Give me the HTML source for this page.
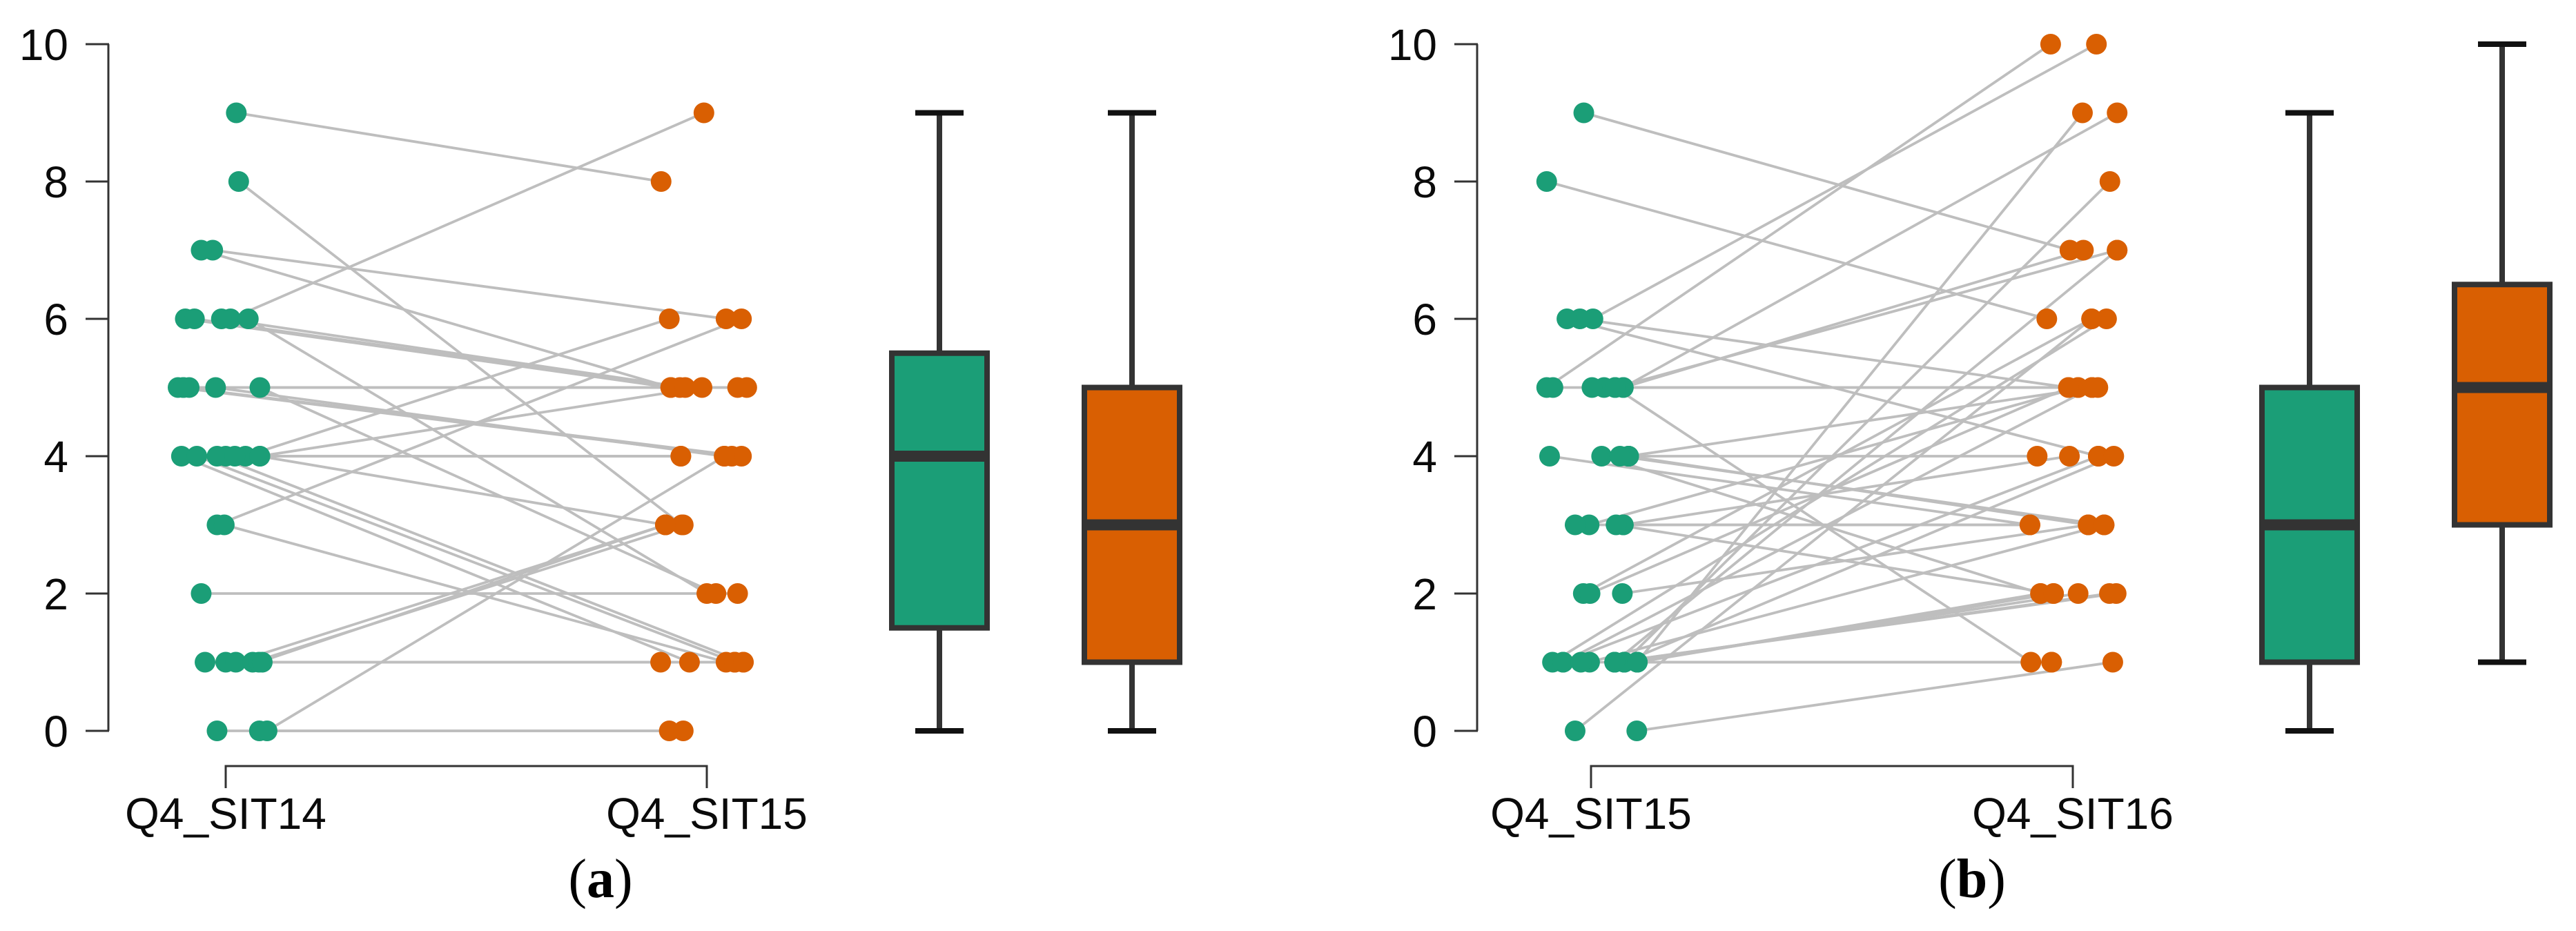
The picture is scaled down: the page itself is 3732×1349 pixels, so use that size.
<!DOCTYPE html>
<html lang="en">
<head>
<meta charset="utf-8">
<title>Paired comparison plots</title>
<style>
html,body{margin:0;padding:0;background:#fff;width:3732px;height:1349px;overflow:hidden}
svg{display:block}
.tick-text{font-family:"Liberation Sans",sans-serif;font-size:64px;fill:#0a0a0a}
.caption{font-family:"Liberation Serif",serif;font-size:80px;fill:#000}
</style>
</head>
<body>
<svg id="chart" xmlns="http://www.w3.org/2000/svg" width="3732" height="1349" viewBox="0 0 3732 1349">
  <rect x="0" y="0" width="3732" height="1349" fill="#fff"/>
  <g id="panel-a"></g>
  <g id="panel-b"></g>
  <text class="caption" x="870" y="1300" text-anchor="middle">(<tspan font-weight="bold">a</tspan>)</text>
  <text class="caption" x="2857" y="1300" text-anchor="middle">(<tspan font-weight="bold">b</tspan>)</text>
</svg>
<script>
// y axis
const yTicks = [0, 2, 4, 6, 8, 10];
const yTickLabels = ["0", "2", "4", "6", "8", "10"];

// panel a: paired observations
const categoriesA = ["Q4_SIT14", "Q4_SIT15"];
const beforeA = [9, 8, 7, 7, 6, 6, 6, 6, 6, 5, 5, 5, 5, 5, 4, 4, 4, 4, 4, 4, 4, 3, 3, 2, 1, 1, 1, 1, 1, 1, 0, 0, 0, 5, 4];
const afterA = [8, 3, 6, 5, 9, 5, 5, 5, 2, 5, 2, 4, 4, 4, 6, 5, 4, 3, 1, 1, 1, 6, 1, 2, 1, 1, 3, 3, 3, 1, 0, 0, 4, 5, 4];
const jitterBeforeA = [.022, .027, -.027, -.051, .010, -.084, -.065, -.009, .047, -.076, .071, -.099, -.088, -.021, .041, .071, 0, .071, -.092, -.060, -.018, -.018, -.003, -.051, -.043, 0, .021, .056, .069, .076, -.018, .070, .086, -.088, .019];
const jitterAfterA = [-.095, -.052, .040, -.075, -.006, -.075, -.056, -.045, 0, .083, .019, .052, .072, .036, -.078, -.010, -.054, -.086, -.036, .058, .076, .072, .040, .064, .058, .076, -.086, -.049, -.086, -.096, -.078, -.049, .037, .064, -.054];
const boxMinA = [0, 0];
const boxQ1A = [1.5, 1];
const boxMedianA = [4, 3];
const boxQ3A = [5.5, 5];
const boxMaxA = [9, 9];

// panel b: paired observations
const categoriesB = ["Q4_SIT15", "Q4_SIT16"];
const beforeB = [9, 8, 6, 6, 6, 5, 5, 5, 5, 5, 5, 5, 5, 4, 4, 4, 4, 4, 4, 3, 3, 3, 3, 2, 2, 2, 1, 1, 1, 1, 1, 1, 1, 1, 1, 1, 1, 1, 1, 1, 0, 0, 3, 1];
const afterB = [7, 6, 5, 4, 10, 10, 9, 7, 7, 5, 1, 5, 5, 5, 4, 3, 3, 2, 3, 5, 4, 3, 2, 6, 5, 3, 9, 8, 7, 6, 5, 4, 4, 3, 2, 2, 2, 2, 2, 1, 1, 6, 3, 1];
const jitterBeforeB = [-.015, -.092, -.023, -.050, .004, -.092, .067, .067, .050, .027, .050, -.079, .002, .078, .078, -.086, .078, .022, .060, -.004, .067, .067, .052, -.016, -.002, .065, .096, .069, .049, -.080, -.058, -.058, .069, -.003, .096, .096, .069, .049, .049, .096, .095, -.033, -.033, -.021];
const jitterAfterB = [-.006, -.054, -.009, .053, .049, -.046, .092, .022, .092, .011, -.087, .040, .052, .040, -.074, -.089, .032, -.067, .065, .011, -.007, -.089, -.040, .039, -.009, .032, .020, .077, .092, .070, .040, .053, .085, .065, -.067, -.040, .011, .076, .090, -.044, .083, .039, -.089, -.044];
const boxMinB = [0, 1];
const boxQ1B = [1, 3];
const boxMedianB = [3, 5];
const boxQ3B = [5, 6.5];
const boxMaxB = [9, 10];

const NS = 'http://www.w3.org/2000/svg';
const GREEN = '#1b9e77';
const ORANGE = '#d95f02';
const boxColors = [GREEN, ORANGE];

function yScale(v) { return 1059 - v * 99.5; }

function make(parent, tag, attrs) {
  const el = document.createElementNS(NS, tag);
  for (const k in attrs) el.setAttribute(k, attrs[k]);
  parent.appendChild(el);
  return el;
}

function drawPanel(root, cfg) {
  function xScale(c) { return cfg.x0 + c * cfg.gap; }
  function boxX(i) { return cfg.boxStart + i * cfg.boxStep; }

  // y axis
  const axis = make(root, 'line', { x1: cfg.axisX, x2: cfg.axisX, y1: yScale(10), y2: yScale(0), stroke: '#333', 'stroke-width': 3 });
  
  
  yTicks.forEach(function (t, i) {
    const tick = make(root, 'line', { x1: cfg.axisX - 33, x2: cfg.axisX + 1, y1: yScale(t), y2: yScale(t), stroke: '#333', 'stroke-width': 3 });
    
    
    const lab = make(root, 'text', { x: cfg.axisX - 58, y: yScale(t) + 23, 'text-anchor': 'end', class: 'tick-text' });
    
    
    lab.textContent = yTickLabels[i];
  });

  // x bracket
  const bracket = make(root, 'path', {
    d: 'M' + xScale(0) + ' 1142V1110H' + xScale(1) + 'V1142',
    fill: 'none', stroke: '#333', 'stroke-width': 3
  });
  
  
  cfg.categories.forEach(function (c, i) {
    const lab = make(root, 'text', { x: xScale(i), y: 1201, 'text-anchor': 'middle', class: 'tick-text' });
    
    
    lab.textContent = c;
  });

  // connecting lines
  cfg.before.forEach(function (b, i) {
    const line = make(root, 'line', {
      x1: xScale(0 + cfg.jitterBefore[i]), y1: yScale(b),
      x2: xScale(1 + cfg.jitterAfter[i]), y2: yScale(cfg.after[i]),
      stroke: '#bebebe', 'stroke-width': 3.8
    });
    
    
  });

  // dots
  cfg.before.forEach(function (b, i) {
    const dot = make(root, 'circle', { cx: xScale(0 + cfg.jitterBefore[i]), cy: yScale(b), r: 15, fill: GREEN });
    
    
  });
  cfg.after.forEach(function (a, i) {
    const dot = make(root, 'circle', { cx: xScale(1 + cfg.jitterAfter[i]), cy: yScale(a), r: 15, fill: ORANGE });
    
    
  });

  // box plots
  cfg.boxMedian.forEach(function (m, i) {
    const cx = boxX(i);
    const whisker = make(root, 'line', { x1: cx, x2: cx, y1: yScale(cfg.boxMax[i]), y2: yScale(cfg.boxMin[i]), stroke: '#333', 'stroke-width': 8 });
    
    
    [cfg.boxMax[i], cfg.boxMin[i]].forEach(function (v) {
      const cap = make(root, 'line', { x1: cx - 35, x2: cx + 35, y1: yScale(v), y2: yScale(v), stroke: '#111', 'stroke-width': 8 });
      
      
    });
    const box = make(root, 'rect', {
      x: cx - 69, width: 138,
      y: yScale(cfg.boxQ3[i]), height: yScale(cfg.boxQ1[i]) - yScale(cfg.boxQ3[i]),
      fill: boxColors[i], stroke: '#333', 'stroke-width': 8
    });
    
    
    const med = make(root, 'line', { x1: cx - 69, x2: cx + 69, y1: yScale(m), y2: yScale(m), stroke: '#333', 'stroke-width': 16 });
    
    
  });
}

drawPanel(document.getElementById('panel-a'), {
  axisX: 157, x0: 327, gap: 697, boxStart: 1361, boxStep: 279,
  categories: categoriesA,
  before: beforeA, after: afterA,
  jitterBefore: jitterBeforeA, jitterAfter: jitterAfterA,
  boxMin: boxMinA, boxQ1: boxQ1A, boxMedian: boxMedianA, boxQ3: boxQ3A, boxMax: boxMaxA
});
drawPanel(document.getElementById('panel-b'), {
  axisX: 2140, x0: 2305, gap: 698, boxStart: 3346, boxStep: 279,
  categories: categoriesB,
  before: beforeB, after: afterB,
  jitterBefore: jitterBeforeB, jitterAfter: jitterAfterB,
  boxMin: boxMinB, boxQ1: boxQ1B, boxMedian: boxMedianB, boxQ3: boxQ3B, boxMax: boxMaxB
});
</script>
</body>
</html>
